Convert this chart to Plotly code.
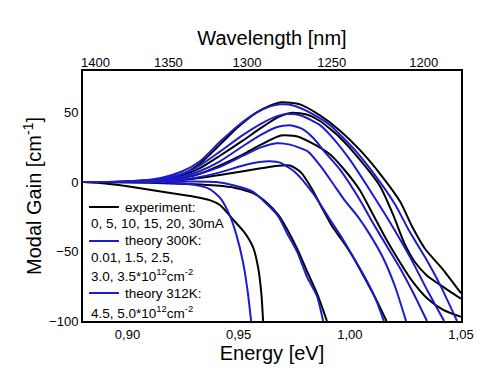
import plotly.graph_objects as go

# ---------------- data (Energy [eV], Modal gain [1/cm]) ----------------
exp_0mA_E = [0.88, 0.89, 0.90, 0.91, 0.92, 0.93, 0.937, 0.9416, 0.9475, 0.9525, 0.9565, 0.9587, 0.9602, 0.961]
exp_0mA_G = [0, -1, -3, -5.5, -8, -10.5, -13, -16.5, -27, -36, -47, -61, -80, -100]

exp_5mA_E = [0.88, 0.91, 0.93, 0.94, 0.948, 0.9565, 0.9628, 0.968, 0.9718, 0.9763, 0.9807, 0.9852, 0.9897]
exp_5mA_G = [0, -0.5, -1.5, -2.5, -4, -8, -15, -24, -34, -48, -64, -80, -100]

exp_10mA_E = [0.88, 0.90, 0.915, 0.93, 0.945, 0.958, 0.966, 0.9731, 0.978, 0.983, 0.9876, 0.9921, 0.9966, 1.0011, 1.006, 1.012, 1.0165]
exp_10mA_G = [0, 0, 0.5, 2.5, 6, 9.5, 11.5, 12, 7, -5, -19, -32, -42, -53, -67, -85, -100]

exp_15mA_E = [0.88, 0.90, 0.915, 0.925, 0.9326, 0.9416, 0.952, 0.96, 0.969, 0.976, 0.983, 0.991, 0.998, 1.0046, 1.010, 1.016, 1.0215, 1.0275, 1.035, 1.042, 1.05]
exp_15mA_G = [0, 0.2, 1, 3, 6, 12, 20, 27, 33.5, 33, 28, 20, 8, -6, -22, -40, -55, -70, -84, -92, -97]

exp_20mA_E = [0.88, 0.90, 0.915, 0.925, 0.9326, 0.9416, 0.952, 0.96, 0.968, 0.974, 0.981, 0.9866, 0.9956, 1.0046, 1.0136, 1.0196, 1.0245, 1.029, 1.0345, 1.0406, 1.05]
exp_20mA_G = [0, 0.3, 1.5, 5, 10, 19, 30, 39, 47, 50, 48.5, 44, 32, 16, -3, -24, -44, -57, -67, -74, -84]

exp_30mA_E = [0.88, 0.90, 0.915, 0.925, 0.933, 0.9416, 0.95, 0.958, 0.9641, 0.9695, 0.9776, 0.9866, 0.9956, 1.0046, 1.0136, 1.0226, 1.028, 1.0338, 1.0419, 1.05]
exp_30mA_G = [0, 0.5, 2, 6, 14, 27, 40, 50, 55, 57.5, 56, 48, 37, 23, 6, -14, -32, -48, -63, -80]

th_001_E = [0.88, 0.90, 0.92, 0.93, 0.937, 0.942, 0.946, 0.949, 0.952, 0.954, 0.9556]
th_001_G = [0, 0, -0.5, -2, -5, -12, -24, -38, -58, -78, -100]

th_15_E = [0.88, 0.91, 0.93, 0.94, 0.948, 0.9565, 0.9628, 0.968, 0.9718, 0.9763, 0.9807, 0.9852, 0.988]
th_15_G = [0, 0, 0.5, 0, -2.5, -7, -16, -25, -37, -50, -68, -82, -100]

th_25_E = [0.88, 0.90, 0.915, 0.93, 0.9416, 0.952, 0.9596, 0.964, 0.9686, 0.9755, 0.9834, 0.9911, 0.9956, 1.0001, 1.0066, 1.0121, 1.0153]
th_25_G = [0, 0, 0.5, 3, 7, 12, 14.5, 15, 14, 7, -8, -27, -38, -50, -68, -86, -100]

th_30_E = [0.88, 0.90, 0.915, 0.93, 0.9416, 0.952, 0.96, 0.967, 0.9731, 0.9812, 0.9866, 0.9924, 0.9976, 1.0037, 1.0091, 1.0151, 1.0203, 1.0253]
th_30_G = [0, 0.2, 1, 5, 11, 19, 25, 28, 27, 22, 12, -1, -13, -25, -38, -55, -75, -100]

th_35_E = [0.88, 0.90, 0.915, 0.925, 0.9326, 0.9416, 0.952, 0.96, 0.967, 0.973, 0.979, 0.984, 0.988, 0.9956, 1.0046, 1.0106, 1.0166, 1.0226, 1.0286, 1.0347]
th_35_G = [0, 0.3, 1.5, 4, 8, 15, 26, 34, 39.5, 41, 38, 31, 23, 9, -13, -30, -46, -62, -80, -100]

th_45_E = [0.88, 0.90, 0.915, 0.925, 0.9326, 0.9416, 0.952, 0.96, 0.9673, 0.9718, 0.978, 0.9866, 0.9911, 1.0001, 1.0091, 1.0181, 1.0271, 1.0352, 1.0424]
th_45_G = [0, 0.5, 2, 6, 12, 22, 34, 42, 47.5, 49, 48, 41, 34, 16, -6, -29, -54, -79, -100]

th_50_E = [0.88, 0.90, 0.915, 0.925, 0.9326, 0.9416, 0.95, 0.958, 0.9641, 0.9686, 0.975, 0.9821, 0.9911, 1.0023, 1.0113, 1.0203, 1.027, 1.0338, 1.0406, 1.0482]
th_50_G = [0, 0.5, 3, 8, 15, 29, 41, 50, 54.5, 56, 55, 50, 41, 23, 5, -16, -36, -54, -74, -100]

wavelength_ticks_nm = [1400, 1350, 1300, 1250, 1200]
energy_tick_vals = [0.90, 0.95, 1.00, 1.05]
gain_tick_vals = [-100, -50, 0, 50]

legend_labels = ["experiment:", "0, 5, 10, 15, 20, 30mA",
                 "theory 300K:", "0.01, 1.5, 2.5,", "3.0, 3.5*10<sup>12</sup>cm<sup>-2</sup>",
                 "theory 312K:", "4.5, 5.0*10<sup>12</sup>cm<sup>-2</sup>"]

BLACK = "#000000"
BLUE = "#1c1ccc"
FONT = "Liberation Sans, Arial, sans-serif"

experiment = [(exp_0mA_E, exp_0mA_G), (exp_5mA_E, exp_5mA_G), (exp_10mA_E, exp_10mA_G),
              (exp_15mA_E, exp_15mA_G), (exp_20mA_E, exp_20mA_G), (exp_30mA_E, exp_30mA_G)]
theory = [(th_001_E, th_001_G), (th_15_E, th_15_G), (th_25_E, th_25_G), (th_30_E, th_30_G),
          (th_35_E, th_35_G), (th_45_E, th_45_G), (th_50_E, th_50_G)]

fig = go.Figure()
for E, G in experiment:
    fig.add_trace(go.Scatter(x=E, y=G, mode="lines", line=dict(color=BLACK, width=2, shape="spline", smoothing=0.6),
                             showlegend=False, hoverinfo="skip"))
for E, G in theory:
    fig.add_trace(go.Scatter(x=E, y=G, mode="lines", line=dict(color=BLUE, width=2, shape="spline", smoothing=0.6),
                             showlegend=False, hoverinfo="skip"))

# dummy trace to anchor top (wavelength) axis
fig.add_trace(go.Scatter(x=[0.95], y=[0], xaxis="x2", mode="markers", marker=dict(opacity=0),
                         showlegend=False, hoverinfo="skip"))

top_vals = [1239.84 / w for w in wavelength_ticks_nm]

fig.update_layout(
    width=492, height=376,
    margin=dict(l=75, r=39, t=63, b=63, autoexpand=False),
    paper_bgcolor="white", plot_bgcolor="white",
    separators=",.",
    font=dict(family=FONT, size=13, color="black"),
    xaxis=dict(range=[0.88, 1.05], tickvals=energy_tick_vals, tickformat=".2f", automargin=False,
               showgrid=False, zeroline=False, showline=True, linecolor="black", linewidth=2,
               mirror=True, ticks="", ticklen=0,
               title=dict(text="Energy [eV]", font=dict(size=20), standoff=2)),
    xaxis2=dict(range=[0.88, 1.05], overlaying="x", side="top", anchor="y", automargin=False,
                tickvals=top_vals, ticktext=[str(w) for w in wavelength_ticks_nm],
                showgrid=False, zeroline=False, showline=False, ticks="",
                title=dict(text="Wavelength [nm]", font=dict(size=20), standoff=4)),
    yaxis=dict(range=[-100, 80], tickvals=gain_tick_vals, automargin=False,
               showgrid=False, zeroline=False, showline=True, linecolor="black", linewidth=2,
               mirror=True, ticks="", ticklen=0,
               title=dict(text="Modal Gain [cm<sup>-1</sup>]", font=dict(size=20), standoff=2)),
)

# legend (drawn as key lines + text, inside plot lower left)
key_rows = [(0.456, BLACK), (0.32, BLUE), (0.112, BLUE)]
for yk, col in key_rows:
    fig.add_shape(type="line", xref="paper", yref="paper", x0=0.016, x1=0.095, y0=yk, y1=yk,
                  line=dict(color=col, width=2))

text_pos = [(0.106, 0.456), (0.016, 0.392), (0.106, 0.32), (0.016, 0.256), (0.016, 0.186),
            (0.106, 0.112), (0.016, 0.038)]
for (xp, yp), txt in zip(text_pos, legend_labels):
    fig.add_annotation(xref="paper", yref="paper", x=xp, y=yp, text=txt, showarrow=False,
                       xanchor="left", yanchor="middle", font=dict(size=13.5, color="black"))

fig.write_html("out.html")
